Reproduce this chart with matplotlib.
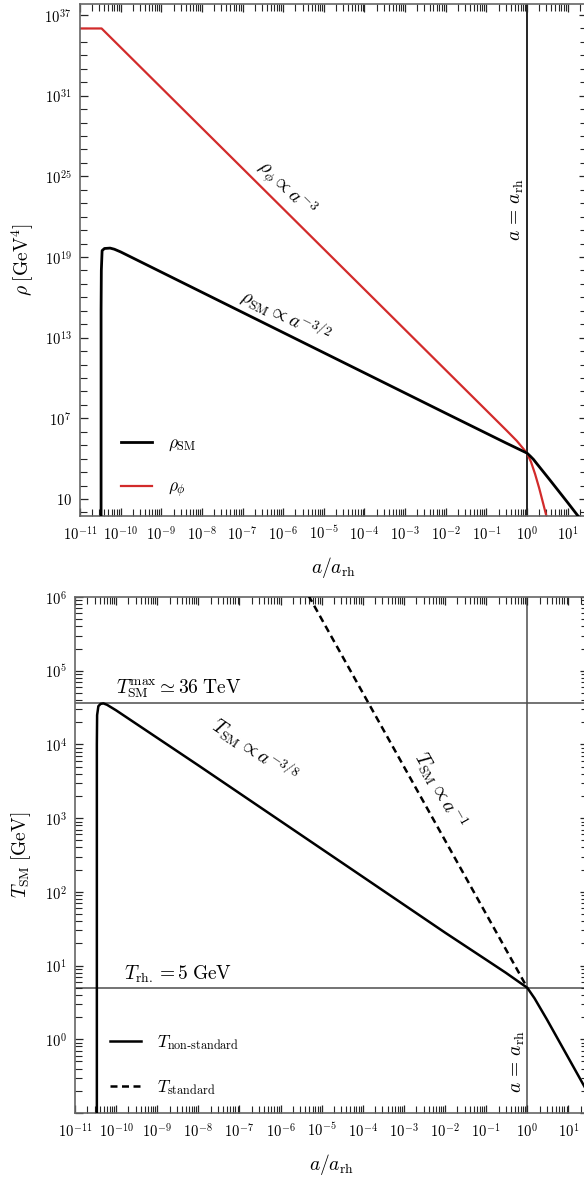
import matplotlib
matplotlib.use("Agg")
import matplotlib.pyplot as plt
from matplotlib.ticker import FixedLocator, FuncFormatter, NullFormatter, LogLocator
import numpy as np

plt.rcParams['mathtext.fontset'] = 'cm'
plt.rcParams['font.family'] = ['DejaVu Serif']

# energy densities vs scale factor (a / a_rh)
a_phi = [1e-11, 3.4e-11, 1e-1, 0.316, 0.562, 1.0, 1.26, 1.585, 2.0, 2.51, 3.16, 3.55]
rho_phi = [1e36, 1e36, 3.9e7, 1.23e6, 2.1e5, 2.6e4, 5.6e3, 7.1e2, 6.3e1, 4.5, 0.3, 0.05]

a_sm = [3.3e-11, 3.3e-11, 3.35e-11, 3.5e-11, 4.0e-11, 5.5e-11, 7.0e-11, 1e-10, 1e-8, 1e-4,
        1e-2, 0.3, 1.0, 1.2, 1.445, 1.73, 2.5, 3.7, 6.0, 10.0, 18.0, 30.0]
rho_sm = [1e-3, 1e15, 1e18, 3.0e19, 4.3e19, 4.6e19, 3.8e19, 2.4e19, 2.4e16, 2.4e10,
          2.4e7, 1.5e5, 2.6e4, 1.56e4, 8.8e3, 4.4e3, 1.1e3, 2.5e2, 3.9e1, 5.5, 0.55, 0.08]

# SM temperature, non-standard (reheating) and standard (T ~ 1/a)
a_ns = [3.4e-11, 3.4e-11, 3.45e-11, 3.7e-11, 4.2e-11, 4.9e-11, 6.0e-11, 1e-10, 1e-8,
        1e-4, 1e-2, 0.1, 0.3, 0.6, 1.0, 1.5, 3.0, 10.0, 30.0]
T_ns = [1e-2, 1e4, 2.5e4, 3.3e4, 3.55e4, 3.6e4, 3.45e4, 2.9e4, 5.2e3,
        1.6e2, 28.0, 12.0, 8.0, 6.1, 5.0, 3.6, 1.86, 0.56, 0.187]

a_std = [1e-6, 1.0]
T_std = [5e6, 5.0]

T_max = 3.6e4
T_rh = 5.0
a_rh = 1.0

xticks = [10.0**k for k in range(-11, 2)]

fig = plt.figure(figsize=(5.84, 11.78), dpi=100)
W, H = 584.0, 1178.0

# axes placed in pixels, the right spine falls just outside the canvas
ax1 = fig.add_axes([80/W, 1-516/H, 507/W, 512/H])
ax2 = fig.add_axes([75/W, 1-1113/H, 513/W, 516/H])

spine_col = '0.4'
fs = 14

def style_axes(ax):
    ax.set_xscale('log')
    ax.set_yscale('log')
    ax.set_xlim(1e-11, 30)
    for s in ax.spines.values():
        s.set_color(spine_col)
        s.set_linewidth(1.2)
    ax.tick_params(which='both', direction='in', top=True, right=True,
                   color='0.15', labelsize=10.5, pad=6)
    ax.tick_params(which='major', length=6, width=0.9)
    ax.tick_params(which='minor', length=5, width=0.8)
    ax.xaxis.set_major_locator(FixedLocator(xticks))
    ax.xaxis.set_minor_locator(LogLocator(base=10, subs=np.arange(2, 10), numticks=40))
    ax.xaxis.set_major_formatter(FuncFormatter(lambda v, p: r'$10^{%d}$' % round(np.log10(v))))
    ax.xaxis.set_minor_formatter(NullFormatter())
    ax.set_xlabel(r'$a/a_{\rm rh}$', fontsize=fs, labelpad=9)

# ---- top panel: energy densities
style_axes(ax1)
ax1.set_ylim(10**-0.265, 10**37.82)
ax1.yaxis.set_major_locator(FixedLocator([10.0**k for k in range(1, 38, 6)]))
ax1.yaxis.set_minor_locator(FixedLocator([10.0**k for k in range(0, 38)]))
ax1.yaxis.set_major_formatter(FuncFormatter(
    lambda v, p: r'$10$' if round(np.log10(v)) == 1 else r'$10^{%d}$' % round(np.log10(v))))
ax1.yaxis.set_minor_formatter(NullFormatter())

ax1.axvline(a_rh, color='k', lw=1.2, zorder=1)
ax1.plot(a_sm, rho_sm, color='k', lw=2.0, label=r'$\rho_{\rm SM}$', zorder=3)
ax1.plot(a_phi, rho_phi, color='#d22b2b', lw=1.6, label=r'$\rho_{\phi}$', zorder=2)

ax1.text(1.2e-6, 10**24.13, r'$\rho_\phi \propto a^{-3}$', rotation=-44.8, fontsize=fs,
         ha='center', va='center', rotation_mode='anchor')
ax1.text(1.1e-6, 10**14.6, r'$\rho_{\rm SM} \propto a^{-3/2}$', rotation=-26.4, fontsize=fs,
         ha='center', va='center', rotation_mode='anchor')
ax1.text(0.57, 10**22.5, r'$a\,=\,a_{\rm rh}$', rotation=90, fontsize=fs,
         ha='center', va='center')

ax1.set_ylabel(r'$\rho\;[\mathrm{GeV}^4]$', fontsize=fs, labelpad=6)
ax1.legend(loc='lower left', bbox_to_anchor=(0.05, 0.0), frameon=False, fontsize=12.5,
           handlelength=1.8, handletextpad=0.9, labelspacing=1.5)

# ---- bottom panel: SM temperature
style_axes(ax2)
ax2.set_ylim(0.1, 1e6)
ax2.yaxis.set_major_locator(FixedLocator([10.0**k for k in range(-1, 7)]))
ax2.yaxis.set_minor_locator(LogLocator(base=10, subs=np.arange(2, 10), numticks=40))
ax2.yaxis.set_major_formatter(FuncFormatter(
    lambda v, p: '' if v < 0.5 else r'$10^{%d}$' % round(np.log10(v))))
ax2.yaxis.set_minor_formatter(NullFormatter())

ax2.axhline(T_max, color='0.3', lw=1.1, zorder=1)
ax2.axhline(T_rh, color='0.3', lw=1.1, zorder=1)
ax2.axvline(a_rh, color='0.3', lw=1.1, zorder=1)
ax2.plot(a_ns, T_ns, color='k', lw=1.8, label='$T_{\\rm non\u2010standard}$', zorder=3)
ax2.plot(a_std, T_std, color='k', lw=1.8, ls=(0, (2.8, 1.8)), label=r'$T_{\rm standard}$', zorder=3)

ax2.text(10**-8.49, T_max * 1.1, r'$T_{\rm SM}^{\rm max} \simeq 36\;\mathrm{TeV}$', fontsize=fs,
         ha='center', va='bottom')
ax2.text(10**-8.49, T_rh * 1.1, r'$T_{\rm rh.} = 5\;\mathrm{GeV}$', fontsize=fs,
         ha='center', va='bottom')
ax2.text(10**-6.62, 10**3.93, r'$T_{\rm SM} \propto a^{-3/8}$', rotation=-34, fontsize=fs,
         ha='center', va='center', rotation_mode='anchor')
ax2.text(10**-2.12, 10**3.385, r'$T_{\rm SM} \propto a^{-1}$', rotation=-60.9, fontsize=fs,
         ha='center', va='center', rotation_mode='anchor')
ax2.text(10**-0.22, 10**-0.3, r'$a\,=\,a_{\rm rh}$', rotation=90, fontsize=fs,
         ha='center', va='center')

ax2.set_ylabel(r'$T_{\rm SM}\;[\mathrm{GeV}]$', fontsize=fs, labelpad=8)
ax2.legend(loc='lower left', bbox_to_anchor=(0.038, 0.0), frameon=False, fontsize=12.5,
           handlelength=1.8, handletextpad=0.9, labelspacing=1.5)

fig.savefig('out.png', dpi=100)
